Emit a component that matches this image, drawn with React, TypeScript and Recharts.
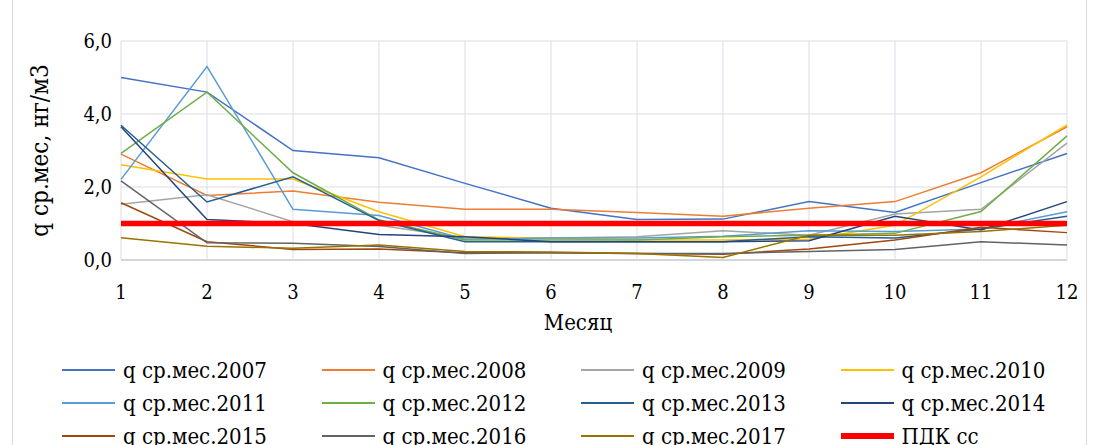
import React from "react";
import { LineChart, Line, XAxis, YAxis, CartesianGrid } from "recharts";

const months = [1, 2, 3, 4, 5, 6, 7, 8, 9, 10, 11, 12];
const yTicks = [0, 2, 4, 6];

const s2007 = [5.0, 4.6, 3.0, 2.8, 2.1, 1.42, 1.11, 1.12, 1.6, 1.3, 2.12, 2.92];
const s2008 = [2.9, 1.77, 1.89, 1.58, 1.39, 1.39, 1.3, 1.2, 1.42, 1.6, 2.39, 3.65];
const s2009 = [1.53, 1.79, 1.05, 0.95, 0.6, 0.6, 0.64, 0.8, 0.68, 1.26, 1.39, 3.2];
const s2010 = [2.61, 2.22, 2.22, 1.32, 0.64, 0.59, 0.55, 0.55, 0.57, 0.95, 2.28, 3.7];
const s2011 = [2.21, 5.3, 1.39, 1.22, 0.57, 0.6, 0.6, 0.65, 0.8, 0.78, 0.85, 1.32];
const s2012 = [2.92, 4.6, 2.39, 1.1, 0.55, 0.55, 0.55, 0.64, 0.68, 0.73, 1.33, 3.4];
const s2013 = [3.69, 1.59, 2.28, 1.08, 0.5, 0.5, 0.5, 0.5, 0.64, 0.6, 0.85, 1.2];
const s2014 = [3.65, 1.11, 1.0, 0.7, 0.64, 0.5, 0.5, 0.5, 0.53, 1.2, 0.82, 1.6];
const s2015 = [1.57, 0.5, 0.29, 0.3, 0.2, 0.2, 0.18, 0.16, 0.3, 0.55, 0.9, 0.75];
const s2016 = [2.17, 0.47, 0.46, 0.37, 0.18, 0.2, 0.18, 0.18, 0.23, 0.29, 0.5, 0.41];
const s2017 = [0.61, 0.38, 0.32, 0.41, 0.23, 0.22, 0.18, 0.07, 0.68, 0.68, 0.78, 0.95];
const pdk = [1.0, 1.0, 1.0, 1.0, 1.0, 1.0, 1.0, 1.0, 1.0, 1.0, 1.0, 1.0];

const seriesList = [
  { key: "y2007", name: "q ср.мес.2007", values: s2007, color: "#4472C4" },
  { key: "y2008", name: "q ср.мес.2008", values: s2008, color: "#ED7D31" },
  { key: "y2009", name: "q ср.мес.2009", values: s2009, color: "#A5A5A5" },
  { key: "y2010", name: "q ср.мес.2010", values: s2010, color: "#FFC000" },
  { key: "y2011", name: "q ср.мес.2011", values: s2011, color: "#5B9BD5" },
  { key: "y2012", name: "q ср.мес.2012", values: s2012, color: "#70AD47" },
  { key: "y2013", name: "q ср.мес.2013", values: s2013, color: "#255E91" },
  { key: "y2014", name: "q ср.мес.2014", values: s2014, color: "#264478" },
  { key: "y2015", name: "q ср.мес.2015", values: s2015, color: "#9E480E" },
  { key: "y2016", name: "q ср.мес.2016", values: s2016, color: "#636363" },
  { key: "y2017", name: "q ср.мес.2017", values: s2017, color: "#997300" },
];
const pdkSeries = { key: "pdk", name: "ПДК сс", values: pdk, color: "#FF0000" };

const data = months.map((m, i) => {
  const row: Record<string, number> = { month: m };
  seriesList.forEach((s) => (row[s.key] = s.values[i]));
  row[pdkSeries.key] = pdkSeries.values[i];
  return row;
});

const FONT = "DejaVu Serif Condensed, DejaVu Serif";

export default function App() {
  const legendItems = [...seriesList, pdkSeries];
  return (
    <div style={{ position: "absolute", left: 0, top: 0, width: 1098, height: 445, background: "#fff", overflow: "hidden" }}>
      <div style={{ position: "absolute", left: 12, top: -2, width: 1073, height: 460, borderLeft: "1px solid #D9D9D9", borderRight: "1px solid #D9D9D9" }} />
      <LineChart
        width={1098}
        height={445}
        data={data}
        margin={{ top: 41, right: 31, left: 61, bottom: 155 }}
        style={{ position: "absolute", left: 0, top: 0 }}
      >
        <CartesianGrid stroke="#D9DDE6" strokeWidth={1} vertical horizontal />
        <XAxis
          dataKey="month"
          type="number"
          domain={[1, 12]}
          ticks={months}
          height={30}
          axisLine={{ stroke: "#C9CED8", strokeWidth: 1.5 }}
          tickLine={false}
          tickMargin={19}
          tick={{ fill: "#000", fontSize: 20, style: { fontFamily: FONT } }}
          label={{ value: "Месяц", position: "insideBottom", offset: -40, dx: -16, fill: "#000", fontSize: 22, style: { fontFamily: FONT } }}
        />
        <YAxis
          type="number"
          domain={[0, 6]}
          ticks={yTicks}
          width={60}
          axisLine={false}
          tickLine={false}
          tickMargin={3}
          tickFormatter={(v: number) => v.toFixed(1).replace(".", ",")}
          tick={{ fill: "#000", fontSize: 20, style: { fontFamily: FONT } }}
          label={{ value: "q ср.мес, нг/м3", angle: -90, position: "insideLeft", offset: -22, fill: "#000", fontSize: 24, style: { textAnchor: "middle", fontFamily: FONT } }}
        />
        {seriesList.map((s) => (
          <Line
            key={s.key}
            dataKey={s.key}
            name={s.name}
            stroke={s.color}
            strokeWidth={1.5}
            dot={false}
            type="linear"
            isAnimationActive={false}
          />
        ))}
        <Line
          dataKey={pdkSeries.key}
          name={pdkSeries.name}
          stroke={pdkSeries.color}
          strokeWidth={5.5}
          dot={false}
          type="linear"
          isAnimationActive={false}
        />
      </LineChart>
      <div style={{ position: "absolute", left: 62, top: 356, width: 1040, fontSize: 22, color: "#000", fontFamily: FONT }}>
        {legendItems.map((it, i) => {
          const col = i % 4;
          const row = Math.floor(i / 4);
          const isPdk = it.key === "pdk";
          return (
            <div key={it.key} style={{ position: "absolute", left: col * 259.5, top: row * 33, height: 28, display: "flex", alignItems: "center", whiteSpace: "nowrap" }}>
              <div style={{ width: 53, height: isPdk ? 6 : 2, background: it.color, marginRight: 8 }} />
              <span>{it.name}</span>
            </div>
          );
        })}
      </div>
    </div>
  );
}
